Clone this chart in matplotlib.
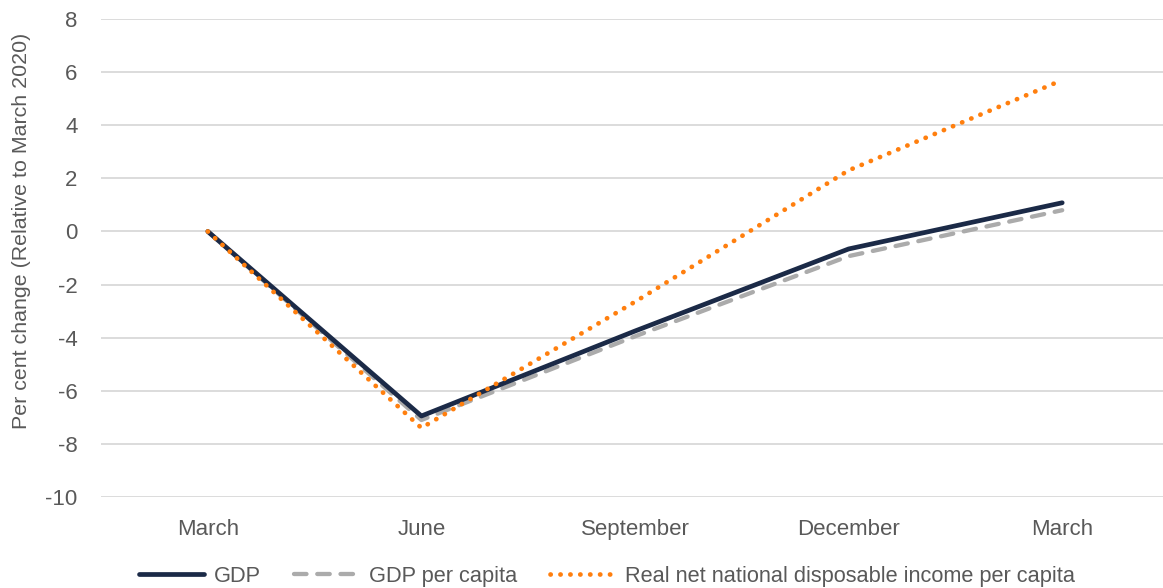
import matplotlib
matplotlib.use("Agg")
import matplotlib.pyplot as plt
from matplotlib.lines import Line2D

# Données (variation en % par rapport à mars 2020)
quarters = ["March", "June", "September", "December", "March"]
gdp = [0.0, -6.95, -3.75, -0.66, 1.08]
gdp_per_capita = [0.0, -7.1, -3.95, -0.93, 0.8]
rnndi_per_capita = [0.0, -7.4, -2.65, 2.3, 5.7]

series_labels = ["GDP", "GDP per capita",
                 "Real net national disposable income per capita"]
y_ticks = list(range(-10, 9, 2))

plt.rcParams['font.family'] = ['Liberation Sans', 'DejaVu Sans']
text_color = "#595959"

# Styles des séries
navy = dict(color="#1b2a47", lw=3.4, solid_capstyle="round",
            solid_joinstyle="round")
grey = dict(color="#ababab", lw=3.1, linestyle=(0, (2.9, 2.5)),
            dash_capstyle="round")
orange = dict(color="#ff7f0e", lw=3.4, linestyle=(0, (0.05, 2.05)),
              dash_capstyle="round")

fig = plt.figure(figsize=(11.63, 5.88), dpi=100)
ax = fig.add_axes([101 / 1163, 91 / 588, 1068 / 1163, 478 / 588])

x = list(range(len(quarters)))

ax.plot(x, gdp, zorder=3, **navy)
ax.plot(x, gdp_per_capita, zorder=2, **grey)
ax.plot(x, rnndi_per_capita, zorder=4, **orange)

ax.set_xlim(-0.5, 4.5)
ax.set_ylim(-10, 8)
ax.set_yticks(y_ticks)
ax.set_yticklabels([str(v) for v in y_ticks])
ax.set_xticks(x)
ax.set_xticklabels(quarters)
ax.tick_params(axis="both", length=0, labelsize=16, colors=text_color)
ax.tick_params(axis="x", pad=16)
ax.tick_params(axis="y", pad=17)

ax.grid(axis="y", color="#d9d9d9", lw=1.3)
ax.set_axisbelow(True)
for s in ax.spines.values():
    s.set_visible(False)

ax.set_ylabel("Per cent change (Relative to March 2020)", fontsize=15.4,
              color=text_color)
ax.yaxis.set_label_coords(-0.0655, 0.556)

# Légende en bas
handles = [Line2D([], [], **navy), Line2D([], [], **grey),
           Line2D([], [], **orange)]
fig.legend(handles, series_labels, loc="lower center",
           bbox_to_anchor=(0.522, -0.031), ncol=3, frameon=False,
           fontsize=15.7, labelcolor=text_color, handlelength=3.0,
           handletextpad=0.45, columnspacing=1.5)

fig.savefig("out.png", dpi=100)
